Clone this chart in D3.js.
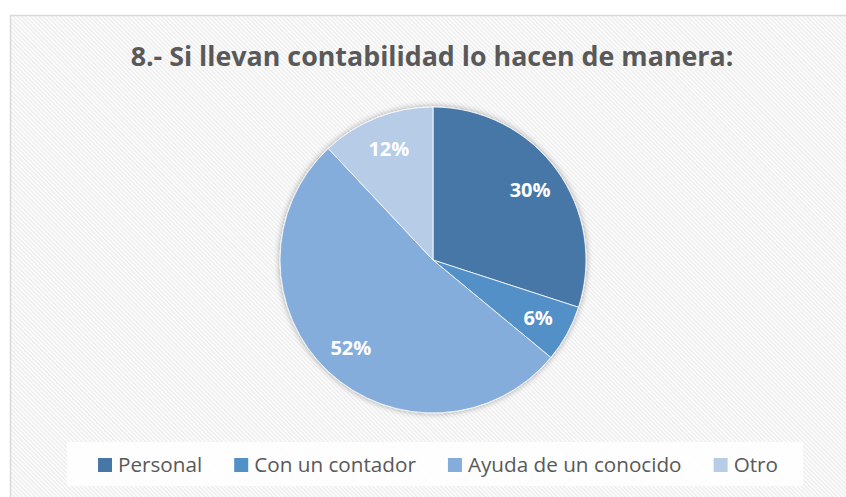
<!DOCTYPE html>
<html>
<head>
<meta charset="utf-8">
<script src="https://cdn.jsdelivr.net/npm/d3@7/dist/d3.min.js"></script>
<style>
  body { margin: 0; background: #fff; }
  svg { display: block; }
  text { font-family: "Open Sans", "Noto Sans", sans-serif; }
</style>
</head>
<body>
<div id="chart"></div>
<script>
var title = "8.- Si llevan contabilidad lo hacen de manera:";
var categories = ["Personal", "Con un contador", "Ayuda de un conocido", "Otro"];
var values = [30, 6, 52, 12];
var labels = ["30%", "6%", "52%", "12%"];
var colors = ["#4677a7", "#5290c8", "#85addc", "#b7cce7"];

var width = 846,
    height = 497,
    cx = 433,
    cy = 260,
    radius = 153,
    labelR = 120;

var svg = d3.select("#chart").append("svg")
  .attr("width", width)
  .attr("height", height);

var defs = svg.append("defs");

// diagonal hatch like the office "wide downward diagonal" fill
var pat = defs.append("pattern")
  .attr("id", "hatch")
  .attr("patternUnits", "userSpaceOnUse")
  .attr("width", 3)
  .attr("height", 3)
  .attr("patternTransform", "rotate(-45)");
pat.append("rect").attr("width", 3).attr("height", 3).attr("fill", "#ffffff");
pat.append("rect").attr("width", 1.5).attr("height", 3).attr("fill", "#ececec");

var shadow = defs.append("filter")
  .attr("id", "shadow")
  .attr("x", "-10%").attr("y", "-10%")
  .attr("width", "120%").attr("height", "120%");
shadow.append("feGaussianBlur").attr("in", "SourceAlpha").attr("stdDeviation", 3);
shadow.append("feComponentTransfer").append("feFuncA").attr("type", "linear").attr("slope", 0.35);
var merge = shadow.append("feMerge");
merge.append("feMergeNode");
merge.append("feMergeNode").attr("in", "SourceGraphic");

svg.append("rect")
  .attr("x", 10.5)
  .attr("y", 15.5)
  .attr("width", width)
  .attr("height", height)
  .attr("fill", "url(#hatch)")
  .attr("stroke", "#d9d9d9")
  .attr("stroke-width", 1.5);

var t = svg.append("text")
  .attr("x", 432)
  .attr("y", 66)
  .attr("text-anchor", "middle")
  .attr("fill", "#595959")
  .attr("font-weight", "bold")
  .attr("font-size", 28)
  .text(title);
var tw = t.node().getComputedTextLength();
t.attr("font-size", 28 * 603 / tw);

var pie = d3.pie().sort(null).value(function (d) { return d; });
var arc = d3.arc().innerRadius(0).outerRadius(radius);
var labelArc = d3.arc().innerRadius(labelR).outerRadius(labelR);

var g = svg.append("g")
  .attr("transform", "translate(" + cx + "," + cy + ")");

var arcs = pie(values);

g.append("g")
  .attr("filter", "url(#shadow)")
  .selectAll("path")
  .data(arcs)
  .enter()
  .append("path")
  .attr("d", arc)
  .attr("fill", function (d, i) { return colors[i]; })
  .attr("stroke", "#ffffff")
  .attr("stroke-width", 0.8);

g.selectAll("text.lbl")
  .data(arcs)
  .enter()
  .append("text")
  .attr("class", "lbl")
  .attr("transform", function (d) { return "translate(" + labelArc.centroid(d) + ")"; })
  .attr("text-anchor", "middle")
  .attr("dy", "0.36em")
  .attr("fill", "#ffffff")
  .attr("font-weight", "bold")
  .attr("font-size", 20)
  .text(function (d, i) { return labels[i]; });

// legend
var legend = svg.append("g").attr("class", "legend");
legend.append("rect")
  .attr("x", 67)
  .attr("y", 442)
  .attr("width", 736)
  .attr("height", 44)
  .attr("fill", "#ffffff")
  .attr("fill-opacity", 0.85);

var sw = 14, gapText = 6, gapItem = 32, legY = 465;
var items = legend.selectAll("g.item")
  .data(categories)
  .enter()
  .append("g")
  .attr("class", "item");

items.append("rect")
  .attr("width", sw)
  .attr("height", sw)
  .attr("y", legY - sw / 2)
  .attr("fill", function (d, i) { return colors[i]; });

var legTexts = items.append("text")
  .attr("y", legY)
  .attr("dy", "0.36em")
  .attr("fill", "#595959")
  .attr("font-size", 20)
  .text(function (d) { return d; });

// fit the legend text to the width of the original
var widths = [];
legTexts.each(function () { widths.push(this.getComputedTextLength()); });
var k = 504 / d3.sum(widths);
legTexts.attr("font-size", 20 * k);
widths = widths.map(function (w) { return w * k; });

var xPos = 98;
items.each(function (d, i) {
  var it = d3.select(this);
  it.select("rect").attr("x", xPos);
  it.select("text").attr("x", xPos + sw + gapText);
  xPos += sw + gapText + widths[i] + gapItem;
});
</script>
</body>
</html>
